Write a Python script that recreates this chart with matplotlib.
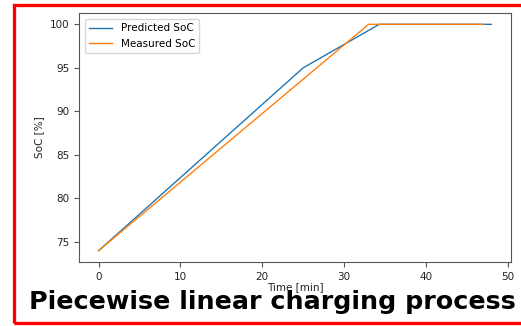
import matplotlib
matplotlib.use("Agg")
import matplotlib.pyplot as plt
from matplotlib.patches import Rectangle

# values
pred_time = [0, 25, 34.3, 48]
pred_soc = [74, 95, 100, 100]
meas_time = [0, 33, 47]
meas_soc = [74, 100, 100]

fig = plt.figure(figsize=(5.21, 3.26), dpi=100)
ax = fig.add_axes([0.1516, 0.1963, 0.8292, 0.7638])

ax.plot(pred_time, pred_soc, color="#1f77b4", lw=1.0, label="Predicted SoC")
ax.plot(meas_time, meas_soc, color="#ff7f0e", lw=1.0, label="Measured SoC")

ax.set_xticks([0, 10, 20, 30, 40, 50])
ax.set_yticks([75, 80, 85, 90, 95, 100])
ax.tick_params(labelsize=7.5, colors="#555555", labelcolor="#222222")
for s in ax.spines.values():
    s.set_color("#555555")

ax.set_xlabel("Time [min]", fontsize=7.5, color="#222222", labelpad=0)
ax.set_ylabel("SoC [%]", fontsize=7.5, color="#222222")
ax.legend(loc="upper left", fontsize=7.5, handlelength=2.2, borderaxespad=0.6)

fig.text(0.5235, 0.051, "Piecewise linear charging process", ha="center", va="baseline",
         fontsize=18.3, fontweight="bold", family="DejaVu Sans")

# red frame, right side runs off the image
fig.patches.append(Rectangle((13.5 / 521, 3 / 326), 1.1, 318 / 326, transform=fig.transFigure,
                             fill=False, edgecolor="#ff0000", lw=2.4, clip_on=False))

fig.savefig("out.png", dpi=100)
